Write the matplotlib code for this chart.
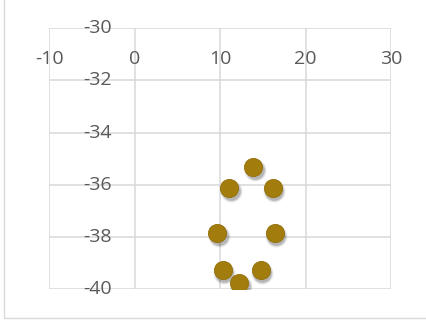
import matplotlib
matplotlib.use("Agg")
import matplotlib.pyplot as plt
import matplotlib.transforms as mtrans
from matplotlib.patches import Rectangle

# Data
x_vals = [13.85, 11.04, 16.19, 9.64, 16.36, 10.27, 14.72, 12.21]
y_vals = [-35.31, -36.13, -36.13, -37.86, -37.86, -39.26, -39.26, -39.75]
x_ticks = [-10, 0, 10, 20, 30]
y_ticks = [-30, -32, -34, -36, -38, -40]

W, H = 427, 323
fig = plt.figure(figsize=(W / 100, H / 100), dpi=100)

# Outer chart border (only left and bottom edges fall inside the canvas)
fig.patches.append(Rectangle((4 / W, 1 - 318 / H), 1.2, 1.2,
                             transform=fig.transFigure, fill=False,
                             edgecolor="#D9D9D9", linewidth=1.0))

left, right, top, bottom = 49.5, 391.0, 28.0, 289.3
ax = fig.add_axes([left / W, 1 - bottom / H, (right - left) / W, (bottom - top) / H])
ax.set_xlim(-10, 30)
ax.set_ylim(-40, -30)
for s in ax.spines.values():
    s.set_visible(False)
ax.set_xticks([])
ax.set_yticks([])

grid_c = "#D9D9D9"
for xv in x_ticks:
    ax.axvline(xv, color=grid_c, lw=1.1, zorder=1)
for yv in y_ticks:
    ax.axhline(yv, color=grid_c, lw=1.1, zorder=1)

txt_c = "#595959"
fam = ["Open Sans", "DejaVu Sans"]
for xv in x_ticks:
    ax.annotate(f"{xv}", (xv, -30), xytext=(0, -22.5), textcoords="offset points",
                ha="center", va="center", fontsize=14, color=txt_c, family=fam,
                annotation_clip=False)
for yv in y_ticks:
    ax.annotate(f"{yv}", (0, yv), xytext=(-16.5, 0), textcoords="offset points",
                ha="right", va="center", fontsize=14, color=txt_c, family=fam,
                annotation_clip=False)

# Soft drop shadow under the markers
for sz, a in [(260, 0.05), (225, 0.07), (195, 0.09), (170, 0.10)]:
    off = mtrans.offset_copy(ax.transData, fig=fig, x=1.0, y=-2.0, units="points")
    ax.scatter(x_vals, y_vals, s=sz, color="black", alpha=a, linewidths=0,
               transform=off, zorder=2)

ax.scatter(x_vals, y_vals, s=172, color="#A27D0E", edgecolors="#94700A",
           linewidths=0.6, zorder=3)

fig.savefig("out.png", dpi=100)
